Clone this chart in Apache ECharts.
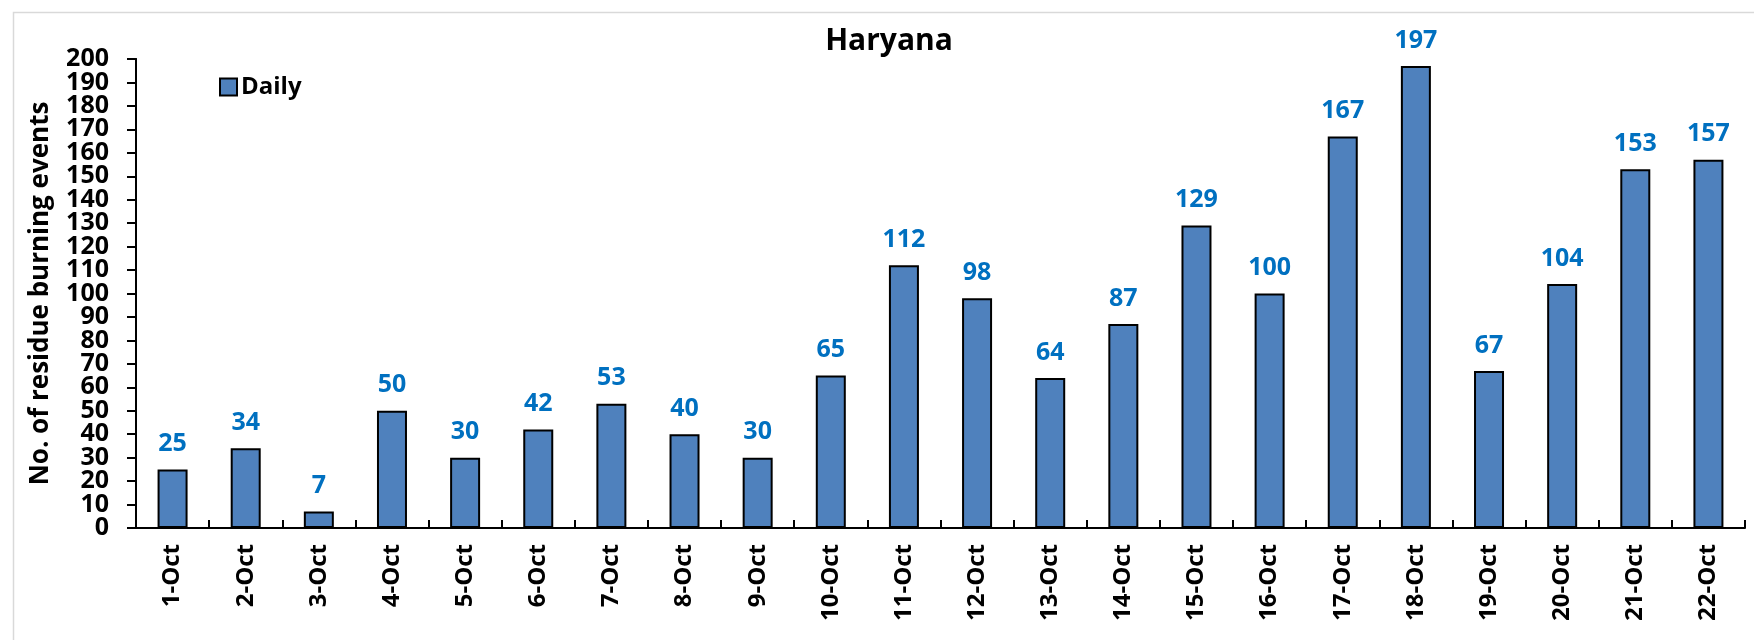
<!DOCTYPE html>
<html>
<head>
<meta charset="utf-8">
<script src="https://cdn.jsdelivr.net/npm/echarts@6/dist/echarts.min.js"></script>
<style>html,body{margin:0;padding:0;background:#fff;}#c{width:1754px;height:640px;}</style>
</head>
<body>
<div id="c"></div>
<script>
const categories = ["1-Oct","2-Oct","3-Oct","4-Oct","5-Oct","6-Oct","7-Oct","8-Oct","9-Oct","10-Oct","11-Oct","12-Oct","13-Oct","14-Oct","15-Oct","16-Oct","17-Oct","18-Oct","19-Oct","20-Oct","21-Oct","22-Oct"];
const daily = [25,34,7,50,30,42,53,40,30,65,112,98,64,87,129,100,167,197,67,104,153,157];
const yMin = 0, yMax = 200, yStep = 10;
const titleText = "Haryana";
const yAxisName = "No. of residue burning events";
const seriesName = "Daily";

const FONT = "Open Sans";
const yLabelStyle = {margin: 27, fontFamily: FONT, fontWeight: 'bold', fontSize: 25, color: '#000'};
const chart = echarts.init(document.getElementById('c'), null, {renderer:'canvas'});
chart.setOption({
  backgroundColor: '#fff',
  animation: false,
  textStyle: {fontFamily: FONT},
  graphic: [{
    type: 'rect', shape: {x: 13.5, y: 12.5, width: 1800, height: 700},
    style: {fill: 'none', stroke: '#d9d9d9', lineWidth: 1.5}, z: -1
  }],
  title: {
    text: titleText, left: 884, top: 21, textAlign: 'center',
    textStyle: {fontFamily: FONT, fontWeight: 'bold', fontSize: 30, color: '#000'}
  },
  legend: {
    data: [seriesName], left: 214, top: 70, itemWidth: 17, itemHeight: 17, itemGap: 6,
    icon: 'rect',
    textStyle: {fontFamily: FONT, fontWeight: 'bold', fontSize: 24, color: '#000', padding: [0,0,0,-1]}
  },
  grid: {left: 136, top: 59, right: 9, bottom: 112, containLabel: false},
  xAxis: {
    type: 'category', data: categories,
    axisLine: {lineStyle: {color: '#000', width: 2}},
    axisTick: {show: true, inside: true, length: 8, lineStyle: {color: '#000', width: 2}},
    axisLabel: {rotate: 90, margin: 16, interval: 0, fontFamily: FONT, fontWeight: 'bold', fontSize: 24, color: '#000'}
  },
  yAxis: [{
    type: 'value', min: yMin, max: yMax, interval: yStep, position: 'left',
    name: yAxisName, nameLocation: 'middle', nameRotate: 90, nameGap: 82,
    nameTextStyle: {fontFamily: FONT, fontWeight: 'bold', fontSize: 26, color: '#000'},
    axisLine: {show: true, lineStyle: {color: '#000', width: 2}},
    axisTick: {show: true, length: 9, lineStyle: {color: '#000', width: 2}},
    splitLine: {show: false},
    axisLabel: Object.assign({showMinLabel: false, showMaxLabel: false}, yLabelStyle)
  }, {
    type: 'value', min: yMin, max: yMax, interval: yMax - yMin, position: 'left', offset: 0,
    axisLine: {show: true, lineStyle: {color: '#000', width: 2}},
    axisTick: {show: true, length: 9, lineStyle: {color: '#000', width: 2}},
    splitLine: {show: false},
    axisLabel: Object.assign({showMinLabel: true, showMaxLabel: true}, yLabelStyle)
  }],
  series: [{
    name: seriesName, type: 'bar', data: daily, barWidth: 30, yAxisIndex: 0,
    itemStyle: {color: '#4F81BD', borderColor: '#000', borderWidth: 2},
    label: {show: true, position: 'top', distance: 13, fontFamily: FONT, fontWeight: 'bold', fontSize: 25, color: '#0070C0'}
  }]
});
</script>
</body>
</html>
